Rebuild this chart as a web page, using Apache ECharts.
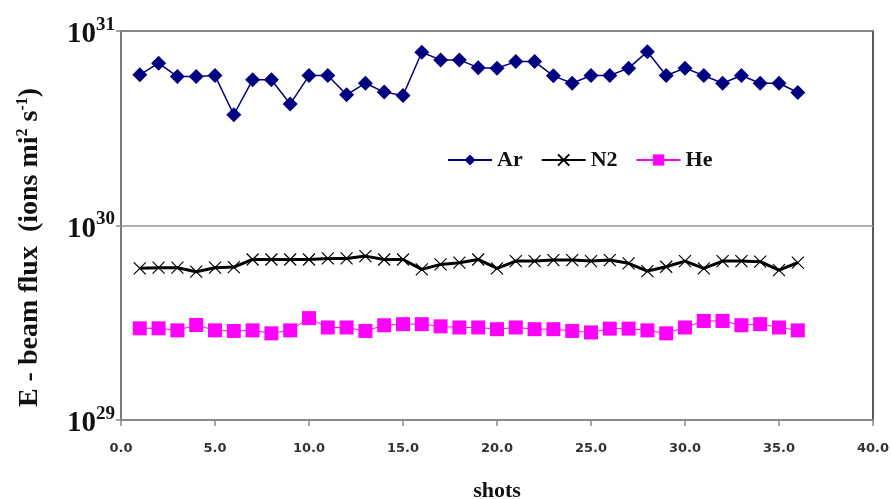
<!DOCTYPE html>
<html>
<head>
<meta charset="utf-8">
<title>E-beam flux</title>
<script src="https://cdn.jsdelivr.net/npm/echarts@6/dist/echarts.min.js"></script>
<style>
  html, body { margin: 0; padding: 0; background: #fff; }
  #chart { width: 891px; height: 499px; }
</style>
</head>
<body>
<div id="chart"></div>
<script>
// shot number, x axis
const shots = [1, 2, 3, 4, 5, 6, 7, 8, 9, 10, 11, 12, 13, 14, 15, 16, 17, 18,
  19, 20, 21, 22, 23, 24, 25, 26, 27, 28, 29, 30, 31, 32, 33, 34, 35, 36];

// Ar, units of 1e30
const arFlux = [5.95, 6.83, 5.83, 5.83, 5.90, 3.71, 5.61, 5.61, 4.21, 5.90, 5.90, 4.70,
  5.39, 4.85, 4.66, 7.78, 7.10, 7.10, 6.48, 6.44, 6.96, 6.96, 5.88, 5.39,
  5.90, 5.90, 6.44, 7.83, 5.90, 6.44, 5.90, 5.39, 5.90, 5.39, 5.39, 4.83];

// N2, units of 1e29
const n2Flux = [6.02, 6.07, 6.07, 5.79, 6.07, 6.11, 6.69, 6.69, 6.69, 6.69, 6.77, 6.77,
  6.96, 6.69, 6.69, 5.95, 6.31, 6.44, 6.69, 6.02, 6.56, 6.56, 6.64, 6.64,
  6.56, 6.64, 6.39, 5.83, 6.14, 6.56, 6.02, 6.56, 6.56, 6.52, 5.90, 6.44];

// He, units of 1e29
const heFlux = [2.96, 2.96, 2.89, 3.08, 2.89, 2.87, 2.89, 2.79, 2.89, 3.34, 2.99, 2.99,
  2.87, 3.07, 3.11, 3.11, 3.03, 2.99, 2.99, 2.93, 2.99, 2.93, 2.93, 2.87,
  2.82, 2.95, 2.95, 2.89, 2.79, 2.99, 3.23, 3.23, 3.07, 3.11, 2.99, 2.89];

const xTicks = [0, 5, 10, 15, 20, 25, 30, 35, 40];
const yTicks = [1e29, 1e30, 1e31];

const serif = '"Liberation Serif", "Times New Roman", serif';

const toPairs = (vals, scale) => shots.map((s, i) => [s, vals[i] * scale]);

const chartDom = document.getElementById('chart');
const chartIns = echarts.init(chartDom, null, {renderer: 'canvas'});

const options = {
  animation: false,
  backgroundColor: '#fff',
  grid: {
    left: 121,
    right: 18,
    top: 31,
    bottom: 79,
    show: true,
    borderColor: '#222',
    borderWidth: 1.5,
    containLabel: false,
    outerBoundsMode: 'none',
  },
  legend: {
    left: 442,
    top: 144,
    itemWidth: 44,
    itemHeight: 14,
    itemGap: 18,
    data: ['Ar', 'N2', 'He'],
    textStyle: {fontFamily: serif, fontWeight: 'bold', fontSize: 22, color: '#111'},
  },
  xAxis: {
    type: 'value',
    min: xTicks[0],
    max: xTicks[xTicks.length - 1],
    interval: 5,
    name: 'shots',
    nameLocation: 'middle',
    nameGap: 60,
    nameTextStyle: {fontFamily: serif, fontWeight: 'bold', fontSize: 22, color: '#111'},
    axisLine: {lineStyle: {color: '#888', width: 1.5}},
    axisTick: {show: true, length: 6, lineStyle: {color: '#888', width: 1.5}},
    splitLine: {show: false},
    axisLabel: {
      margin: 22,
      fontFamily: '"DejaVu Sans", Verdana, sans-serif',
      fontWeight: 'bold',
      fontSize: 13,
      color: '#333',
      formatter: (v) => v.toFixed(1),
    },
  },
  yAxis: {
    type: 'log',
    logBase: 10,
    min: yTicks[0],
    max: yTicks[yTicks.length - 1],
    name: '{n|E - beam flux  (ions mi}{s|2}{n| s}{s|-1}{n|)}',
    nameLocation: 'middle',
    nameRotate: 90,
    nameGap: 76,
    nameTextStyle: {
      padding: [0, 44, 0, 0],
      rich: {
        n: {fontFamily: serif, fontWeight: 'bold', fontSize: 28, color: '#111'},
        s: {fontFamily: serif, fontWeight: 'bold', fontSize: 16, color: '#111', padding: [0, 0, 14, 0]},
      },
    },
    axisLine: {show: true, lineStyle: {color: '#888', width: 1.5}},
    axisTick: {show: true, length: 5, lineStyle: {color: '#888', width: 1.5}},
    splitLine: {show: true, lineStyle: {color: '#999', width: 1.5}},
    minorTick: {show: false},
    axisLabel: {
      margin: 6,
      formatter: (v) => '{b|10}{s|' + Math.round(Math.log10(v)) + '}',
      rich: {
        b: {fontFamily: serif, fontWeight: 'bold', fontSize: 29, color: '#111', padding: [8, 0, 0, 0]},
        s: {fontFamily: serif, fontWeight: 'bold', fontSize: 19, color: '#111', padding: [0, 0, 12, 0]},
      },
    },
  },
  series: [
    {
      name: 'Ar',
      type: 'line',
      symbol: 'diamond',
      symbolSize: 15,
      lineStyle: {color: '#000080', width: 1.5},
      itemStyle: {color: '#000080'},
      data: toPairs(arFlux, 1e30),
    },
    {
      name: 'N2',
      type: 'line',
      symbol: 'path://M0,0L10,10M10,0L0,10',
      symbolSize: 12,
      lineStyle: {color: '#000', width: 3},
      itemStyle: {color: 'transparent', borderColor: '#000', borderWidth: 1.2},
      data: toPairs(n2Flux, 1e29),
    },
    {
      name: 'He',
      type: 'line',
      symbol: 'rect',
      symbolSize: 14,
      lineStyle: {color: '#ff00ff', width: 1},
      itemStyle: {color: '#ff00ff'},
      data: toPairs(heFlux, 1e29),
    },
  ],
};

chartIns.setOption(options);
window.addEventListener('resize', chartIns.resize);
</script>
</body>
</html>
